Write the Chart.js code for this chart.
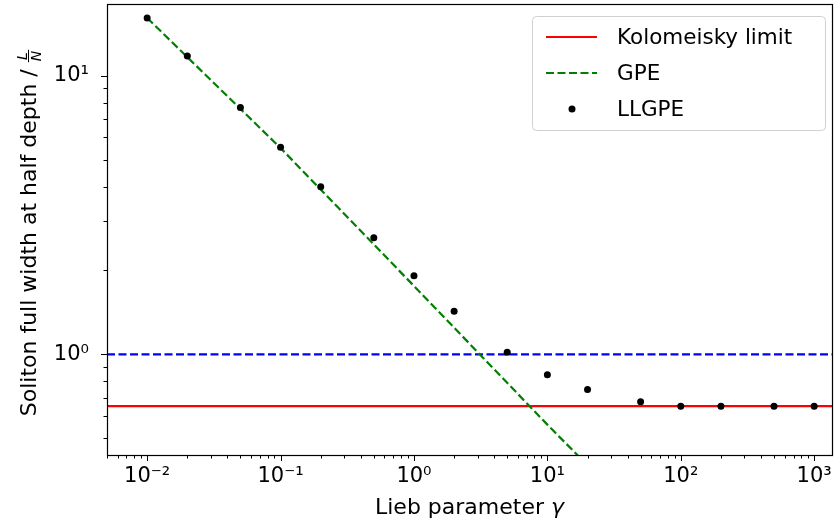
<!DOCTYPE html>
<html>
<head>
<meta charset="utf-8">
<script src="https://cdn.jsdelivr.net/npm/chart.js@4"></script>
<style>
  html, body { margin: 0; padding: 0; background: #fff; }
</style>
</head>
<body>
<canvas id="chart" width="836" height="524"></canvas>
<script>
// LLGPE results
const gammaLLGPE = [0.01, 0.02, 0.05, 0.1, 0.2, 0.5, 1, 2, 5, 10, 20, 50, 100, 200, 500, 1000];
const widthLLGPE = [16.1, 11.76, 7.69, 5.53, 3.99, 2.62, 1.915, 1.428, 1.017, 0.846, 0.748, 0.676, 0.652, 0.652, 0.652, 0.652];

// GPE curve
const gammaGPE = [0.01, 0.1, 1, 10, 20];
const widthGPE = [16.1, 5.5, 1.76, 0.56, 0.40];

// horizontal reference lines
const kolomeiskyLimit = 0.652;
const unitWidth = 1.0;
const gammaSpan = [0.005, 1360];
const widthSpan = [0.4357, 18.07];

const xMajor = [0.01, 0.1, 1, 10, 100, 1000];
const yMajor = [1, 10];

const FONT = 'DejaVu Sans';

function sup(n) {
  const m = {'-': '\u207B', '0': '\u2070', '1': '\u00B9', '2': '\u00B2', '3': '\u00B3'};
  return String(n).split('').map(c => m[c]).join('');
}
function decadeLabel(v) {
  return '10' + sup(Math.round(Math.log10(v)));
}

// frame + major/minor tick marks
const frameTicks = {
  id: 'frameTicks',
  afterDraw(chart) {
    const ctx = chart.ctx, a = chart.chartArea;
    const sx = chart.scales.x, sy = chart.scales.y;
    ctx.save();
    ctx.strokeStyle = '#000';
    ctx.lineWidth = 1.2;
    ctx.strokeRect(Math.round(a.left) + 0.5, Math.round(a.top) + 0.5,
                   Math.round(a.right - a.left), Math.round(a.bottom - a.top));
    ctx.lineWidth = 1;
    for (let d = -3; d <= 3; d++) {
      for (let m = 1; m <= 9; m++) {
        const v = m * Math.pow(10, d);
        const len = m === 1 ? 6 : 3.5;
        if (v >= sx.min && v <= sx.max) {
          const px = Math.round(sx.getPixelForValue(v)) + 0.5;
          ctx.beginPath();
          ctx.moveTo(px, a.bottom);
          ctx.lineTo(px, a.bottom + len);
          ctx.stroke();
        }
        if (v >= sy.min && v <= sy.max) {
          const py = Math.round(sy.getPixelForValue(v)) + 0.5;
          ctx.beginPath();
          ctx.moveTo(a.left, py);
          ctx.lineTo(a.left - len, py);
          ctx.stroke();
        }
      }
    }
    ctx.restore();
  }
};

// axis titles: x with italic gamma, y with a stacked L/N fraction
const axisTitles = {
  id: 'axisTitles',
  afterDraw(chart) {
    const ctx = chart.ctx, a = chart.chartArea;
    ctx.save();
    ctx.fillStyle = '#000';
    ctx.textBaseline = 'alphabetic';
    ctx.textAlign = 'left';

    // x title
    const xt = 'Lieb parameter ';
    ctx.font = '22px "' + FONT + '"';
    const wx = ctx.measureText(xt).width;
    ctx.font = 'italic 22px "' + FONT + '"';
    const wg = ctx.measureText('\u03B3').width;
    const xs = (a.left + a.right) / 2 - (wx + wg) / 2;
    ctx.font = '22px "' + FONT + '"';
    ctx.fillText(xt, xs, 514);
    ctx.font = 'italic 22px "' + FONT + '"';
    ctx.fillText('\u03B3', xs + wx, 514);

    // y title
    const main = 'Soliton full width at half depth / ';
    ctx.translate(36, 233);
    ctx.rotate(-Math.PI / 2);
    ctx.font = '22px "' + FONT + '"';
    const w1 = ctx.measureText(main).width;
    ctx.font = 'italic 14px "' + FONT + '"';
    const wf = Math.max(ctx.measureText('L').width, ctx.measureText('N').width) + 2;
    const x0 = -(w1 + wf) / 2;
    ctx.font = '22px "' + FONT + '"';
    ctx.fillText(main, x0, 0);
    const fx = x0 + w1;
    const bar = -7.5;
    ctx.fillRect(fx, bar - 0.5, wf, 1);
    ctx.font = 'italic 14px "' + FONT + '"';
    ctx.textAlign = 'center';
    ctx.fillText('L', fx + wf / 2, bar - 2);
    ctx.textBaseline = 'top';
    ctx.fillText('N', fx + wf / 2, bar + 2);
    ctx.restore();
  }
};

// legend box inside the axes (upper right)
const boxLegend = {
  id: 'boxLegend',
  afterDraw(chart) {
    const ctx = chart.ctx;
    const a = chart.chartArea;
    const items = chart.data.datasets.filter(d => d.label);
    const right = a.right - 7, top = a.top + 12;
    const left = 532, bottom = top + 114;
    ctx.save();
    ctx.fillStyle = 'rgba(255,255,255,0.8)';
    ctx.strokeStyle = '#d0d0d0';
    ctx.lineWidth = 1;
    ctx.beginPath();
    ctx.roundRect(left + 0.5, top + 0.5, right - left, bottom - top, 4);
    ctx.fill();
    ctx.stroke();
    ctx.font = '21.5px "' + FONT + '"';
    ctx.textBaseline = 'middle';
    ctx.textAlign = 'left';
    items.forEach((d, i) => {
      const cy = top + 21 + i * 36;
      if (d.showLine) {
        ctx.strokeStyle = d.borderColor;
        ctx.lineWidth = d.borderWidth;
        ctx.setLineDash(d.borderDash || []);
        ctx.beginPath();
        ctx.moveTo(546, cy);
        ctx.lineTo(597, cy);
        ctx.stroke();
        ctx.setLineDash([]);
      } else {
        ctx.fillStyle = d.pointBackgroundColor;
        ctx.beginPath();
        ctx.arc(572, cy, d.pointRadius, 0, Math.PI * 2);
        ctx.fill();
      }
      ctx.fillStyle = '#000';
      ctx.fillText(d.label, 617, cy + 1);
    });
    ctx.restore();
  }
};

const toXY = (xs, ys) => xs.map((x, i) => ({x: x, y: ys[i]}));

new Chart(document.getElementById('chart'), {
  type: 'scatter',
  data: {
    datasets: [
      {
        label: 'Kolomeisky limit',
        data: toXY(gammaSpan, [kolomeiskyLimit, kolomeiskyLimit]),
        showLine: true,
        borderColor: 'rgb(255, 0, 0)',
        borderWidth: 2.2,
        pointRadius: 0,
        order: 3
      },
      {
        label: 'GPE',
        data: toXY(gammaGPE, widthGPE),
        showLine: true,
        borderColor: 'rgb(0, 128, 0)',
        borderWidth: 2.2,
        borderDash: [8, 3.5],
        pointRadius: 0,
        order: 1
      },
      {
        label: 'LLGPE',
        data: toXY(gammaLLGPE, widthLLGPE),
        showLine: false,
        pointRadius: 3.5,
        pointBackgroundColor: 'rgb(0, 0, 0)',
        pointBorderWidth: 0,
        order: 0
      },
      {
        label: '',
        data: toXY(gammaSpan, [unitWidth, unitWidth]),
        showLine: true,
        borderColor: 'rgb(0, 0, 255)',
        borderWidth: 2.2,
        borderDash: [8, 3.5],
        pointRadius: 0,
        order: 2
      }
    ]
  },
  options: {
    responsive: false,
    animation: false,
    layout: { padding: { top: 2, right: 4, left: 0, bottom: 0 } },
    plugins: {
      legend: { display: false },
      tooltip: { enabled: false }
    },
    scales: {
      x: {
        type: 'logarithmic',
        min: gammaSpan[0],
        max: gammaSpan[1],
        afterFit: s => { s.height = 69; s.paddingLeft = 0; s.paddingRight = 0; },
        afterBuildTicks: s => { s.ticks = xMajor.map(v => ({value: v})); },
        grid: { display: false },
        border: { display: false },
        ticks: {
          autoSkip: false,
          maxRotation: 0,
          padding: 1,
          color: '#000',
          font: { family: FONT, size: 21 },
          callback: v => decadeLabel(v)
        }
      },
      y: {
        type: 'logarithmic',
        min: widthSpan[0],
        max: widthSpan[1],
        afterFit: s => { s.width = 107; s.paddingTop = 0; s.paddingBottom = 0; },
        afterBuildTicks: s => { s.ticks = yMajor.map(v => ({value: v})); },
        grid: { display: false },
        border: { display: false },
        ticks: {
          padding: 10,
          color: '#000',
          font: { family: FONT, size: 21 },
          callback: v => decadeLabel(v)
        }
      }
    }
  },
  plugins: [frameTicks, axisTitles, boxLegend]
});
</script>
</body>
</html>
